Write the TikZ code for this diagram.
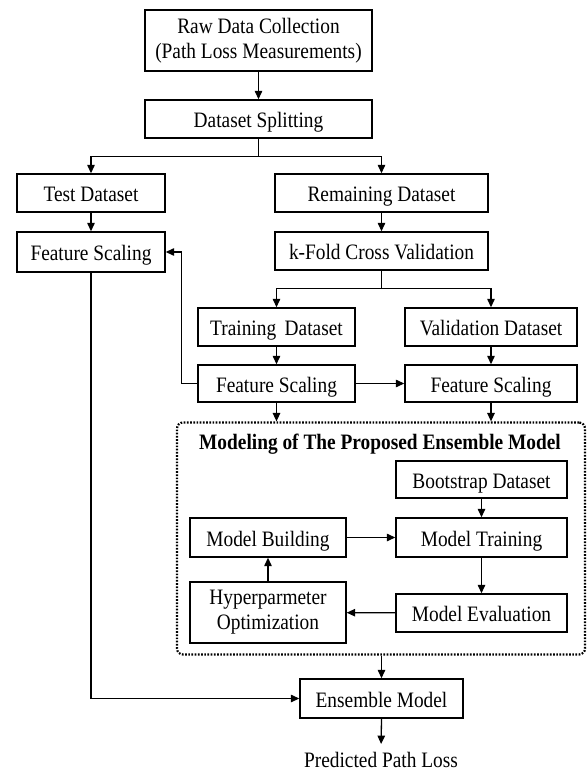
\documentclass[tikz,border=0pt]{standalone}
\usepackage{fontspec}
\setmainfont{Liberation Serif}[FakeStretch=0.88]
\usetikzlibrary{arrows.meta}
\begin{document}
\begin{tikzpicture}[x=1pt,y=-1pt,
  every node/.style={font=\fontsize{22}{25}\selectfont, inner sep=0pt, anchor=center},
  box/.style={draw, line width=1.4pt, align=center},
  sbox/.style={box, text height=20pt, text depth=3pt},
  arr/.style={line width=1.3pt, -{Triangle[length=8.5pt,width=7.5pt]}},
  ln/.style={line width=1.3pt}]
\useasboundingbox (0,0) rectangle (587,771);
\node[box, minimum width=227pt, minimum height=61pt] (raw) at (258.5,40.5) {Raw Data Collection\\(Path Loss Measurements)};
\node[sbox, minimum width=227pt, minimum height=38pt] (split) at (258.5,119) {Dataset Splitting};
\node[sbox, minimum width=148pt, minimum height=38pt] (test) at (91,193) {Test Dataset};
\node[sbox, minimum width=213pt, minimum height=38pt] (remain) at (381.5,193) {Remaining Dataset};
\node[sbox, minimum width=148pt, minimum height=40pt] (fsl) at (91,252) {Feature Scaling};
\node[sbox, minimum width=213pt, minimum height=38pt] (kfold) at (381.5,251) {k-Fold Cross Validation};
\node[sbox, minimum width=157pt, minimum height=38pt] (train) at (276.5,327) {Training\, Dataset};
\node[sbox, minimum width=172pt, minimum height=38pt] (valid) at (491,327) {Validation Dataset};
\node[sbox, minimum width=157pt, minimum height=37pt] (fsm) at (276.5,383.5) {Feature Scaling};
\node[sbox, minimum width=172pt, minimum height=37pt] (fsr) at (491,383.5) {Feature Scaling};
\node[draw, line width=2.2pt, dash pattern=on 1.7pt off 1.5pt, rounded corners=6pt, minimum width=408pt, minimum height=232pt] (model) at (381,538.5) {};
\node[font=\fontsize{22}{25}\selectfont\bfseries] (title) at (380,444) {Modeling of The Proposed Ensemble Model};
\node[sbox, minimum width=171pt, minimum height=37pt] (boot) at (481.5,479.5) {Bootstrap Dataset};
\node[sbox, minimum width=156pt, minimum height=39pt] (mb) at (268,537.5) {Model Building};
\node[sbox, minimum width=171pt, minimum height=39pt] (mt) at (481.5,537.5) {Model Training};
\node[sbox, minimum width=171pt, minimum height=38pt] (me) at (481.5,613) {Model Evaluation};
\node[box, minimum width=156pt, minimum height=61pt] (hyp) at (268,612.5) {Hyperparmeter\\Optimization};
\node[sbox, minimum width=163pt, minimum height=39pt] (ens) at (381.5,698.5) {Ensemble Model};
\node (pred) at (381,760) {Predicted Path Loss};
% connectors
\draw[arr] (raw) -- (split);
\draw[ln] (split.south) -- ++(0,18) coordinate (b1);
\draw[arr] (b1) -| (test.north);
\draw[arr] (b1) -| (remain.north);
\draw[arr] (test) -- (fsl);
\draw[arr] (remain) -- (kfold);
\draw[ln] (kfold.south) -- ++(0,18) coordinate (b2);
\draw[arr] (b2) -| (train.north);
\draw[arr] (b2) -| (valid.north);
\draw[arr] (train) -- (fsm);
\draw[arr] (valid) -- (fsr);
\draw[arr] (fsm) -- (fsr);
\draw[arr] (fsm.west) -- ++(-16,0) |- (fsl.east);
\draw[arr] (fsm.south) -- (fsm.south |- model.north);
\draw[arr] (fsr.south) -- (fsr.south |- model.north);
\draw[arr] (boot) -- (mt);
\draw[arr] (mb) -- (mt);
\draw[arr] (mt) -- (me);
\draw[arr] (me) -- (hyp);
\draw[arr] (hyp) -- (mb);
\draw[arr] (model.south -| ens.north) -- (ens.north);
\draw[arr] (fsl.south) |- (ens.west);
\draw[arr, shorten >=8pt] (ens.south) -- (pred.north);
\end{tikzpicture}
\end{document}
